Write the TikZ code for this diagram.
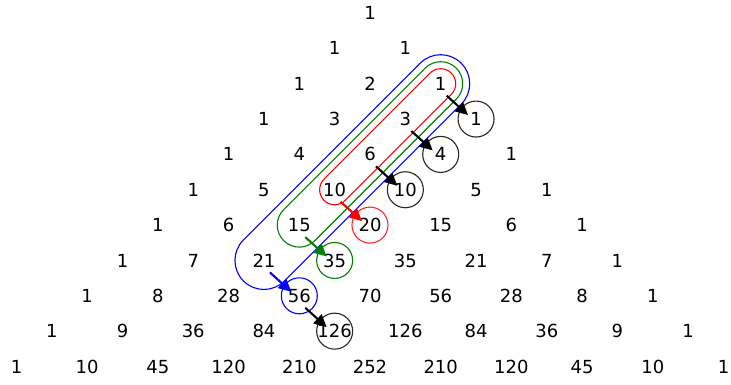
\documentclass[tikz,border=0pt]{standalone}
\usepackage{fontspec}
\setmainfont{DejaVu Sans}
\usetikzlibrary{arrows.meta,calc}
\begin{document}
\begin{tikzpicture}[x=1pt,y=-1pt,
  num/.style={inner sep=0pt, text height=13.1pt, text depth=0pt, font=\fontsize{18}{21}\selectfont},
  ring/.style={line width=1.1pt},
  hook/.style={line width=1.1pt},
  arr/.style={line width=2.1pt, -{Triangle[length=12.5pt,width=12pt]}}]
\useasboundingbox (0,0) rectangle (731,384);
\foreach \row [count=\nn from 0] in {{1},{1,1},{1,2,1},{1,3,3,1},{1,4,6,4,1},{1,5,10,10,5,1},{1,6,15,20,15,6,1},{1,7,21,35,35,21,7,1},{1,8,28,56,70,56,28,8,1},{1,9,36,84,126,126,84,36,9,1},{1,10,45,120,210,252,210,120,45,10,1}}{
  \foreach \v [count=\kk from 0] in \row {
    \pgfmathsetmacro\xx{370+(2*\kk-\nn)*35.35}
    \pgfmathsetmacro\yy{13+35.35*\nn}
    \node[num] (p-\nn-\kk) at (\xx,\yy) {\v};
  }
}
% hockey-stick loops
\coordinate (mr) at ($(p-2-2)!0.5!(p-5-2)$);
\coordinate (mg) at ($(p-2-2)!0.5!(p-6-2)$);
\coordinate (mb) at ($(p-2-2)!0.5!(p-7-2)$);
\begin{scope}[shift={(mr)},rotate=45]
  \draw[hook,red,rounded corners=15pt] (-90,-15) rectangle (90,15);
\end{scope}
\begin{scope}[shift={(mg)},rotate=45]
  \draw[hook,green!50!black,rounded corners=22pt] (-122,-22) rectangle (122,22);
\end{scope}
\begin{scope}[shift={(mb)},rotate=45]
  \draw[hook,blue,rounded corners=29pt] (-154,-29) rectangle (154,29);
\end{scope}
% circles
\draw[ring,black!85] (p-3-3) circle[radius=18];
\draw[ring,black!85] (p-4-3) circle[radius=18];
\draw[ring,black!85] (p-5-3) circle[radius=18];
\draw[ring,black!85] (p-9-4) circle[radius=18];
\draw[ring,red!85] (p-6-3) circle[radius=18];
\draw[ring,green!50!black] (p-7-3) circle[radius=18];
\draw[ring,blue] (p-8-3) circle[radius=18];
% arrows
\draw[arr,black] ($(p-2-2)+(6,12)$) -- ($(p-3-3)+(-8,-4)$);
\draw[arr,black] ($(p-3-2)+(6,12)$) -- ($(p-4-3)+(-8,-4)$);
\draw[arr,black] ($(p-4-2)+(6,12)$) -- ($(p-5-3)+(-8,-4)$);
\draw[arr,red] ($(p-5-2)+(6,12)$) -- ($(p-6-3)+(-8,-4)$);
\draw[arr,green!50!black] ($(p-6-2)+(6,12)$) -- ($(p-7-3)+(-8,-4)$);
\draw[arr,blue] ($(p-7-2)+(6,12)$) -- ($(p-8-3)+(-8,-4)$);
\draw[arr,black] ($(p-8-3)+(6,12)$) -- ($(p-9-4)+(-8,-4)$);
\end{tikzpicture}
\end{document}
